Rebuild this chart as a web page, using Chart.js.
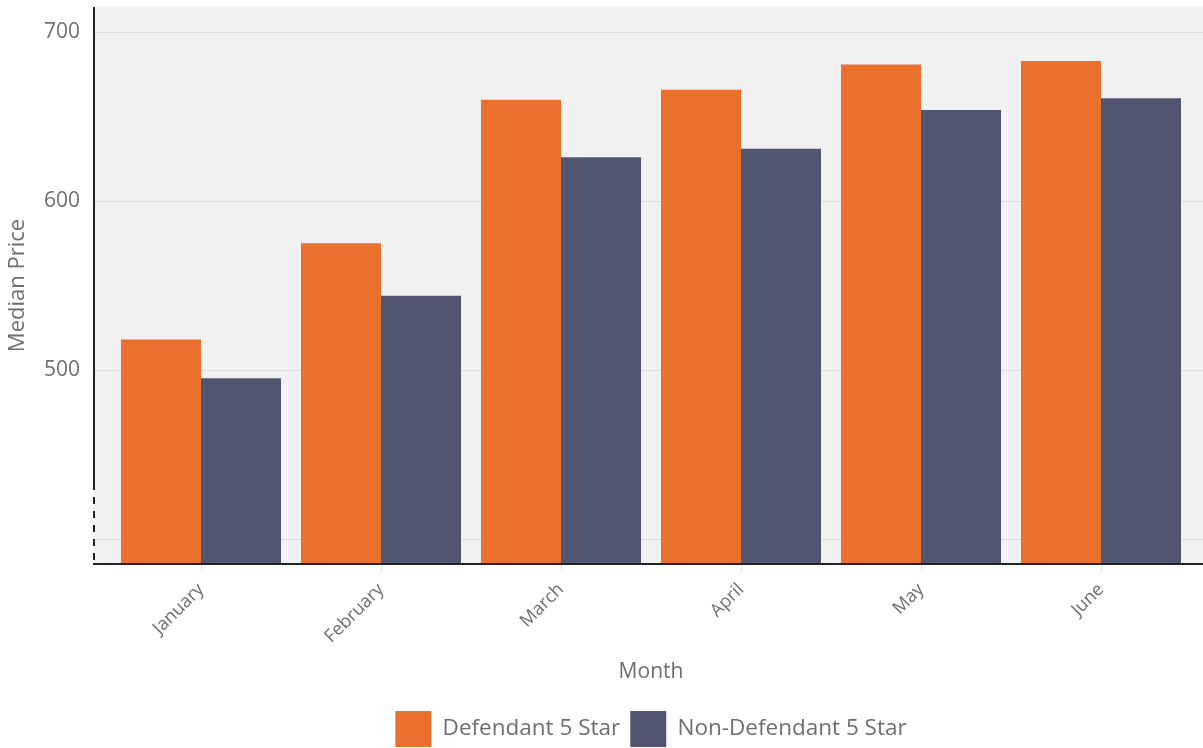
<!DOCTYPE html>
<html>
<head>
<meta charset="utf-8">
<script src="https://cdn.jsdelivr.net/npm/chart.js@4/dist/chart.umd.min.js"></script>
<style>
  html, body { margin: 0; padding: 0; background: #fff; }
  #wrap { width: 1203px; height: 748px; }
</style>
</head>
<body>
<div id="wrap"><canvas id="chart"></canvas></div>
<script>
const months = ['January', 'February', 'March', 'April', 'May', 'June'];
const defendant = [518, 575, 660, 666, 681, 683];
const nonDefendant = [495, 544, 626, 631, 654, 661];
const yTicks = [400, 500, 600, 700];

const FONT = '"Open Sans", Lato, sans-serif';
const TEXT = '#6e6e6e';

// background, grid lines and the broken y axis
const frame = {
  id: 'frame',
  beforeDatasetsDraw(chart) {
    const { ctx, chartArea, scales } = chart;
    const left = 94, right = chart.width;
    ctx.save();
    ctx.fillStyle = '#f1f1f1';
    ctx.fillRect(left, chartArea.top, right - left, chartArea.bottom - chartArea.top);
    ctx.strokeStyle = '#dcdcdc';
    ctx.lineWidth = 1;
    yTicks.forEach(v => {
      const y = Math.round(scales.y.getPixelForValue(v)) + 0.5;
      ctx.beginPath();
      ctx.moveTo(left, y);
      ctx.lineTo(right, y);
      ctx.stroke();
    });
    ctx.restore();
  },
  afterDatasetsDraw(chart) {
    const { ctx, chartArea } = chart;
    const x = 94, bottom = chartArea.bottom;
    ctx.save();
    ctx.strokeStyle = '#222';
    ctx.lineWidth = 2;
    ctx.beginPath();
    ctx.moveTo(x, chartArea.top);
    ctx.lineTo(x, 483);
    ctx.stroke();
    ctx.setLineDash([7, 7]);
    ctx.beginPath();
    ctx.moveTo(x, 483);
    ctx.lineTo(x, bottom);
    ctx.stroke();
    ctx.setLineDash([]);
    ctx.beginPath();
    ctx.moveTo(x - 1, bottom);
    ctx.lineTo(chart.width, bottom);
    ctx.stroke();
    ctx.restore();
  }
};

new Chart(document.getElementById('chart'), {
  type: 'bar',
  data: {
    labels: months,
    datasets: [
      {
        label: 'Defendant 5 Star',
        data: defendant,
        backgroundColor: '#ea712d'
      },
      {
        label: 'Non-Defendant 5 Star',
        data: nonDefendant,
        backgroundColor: '#515570'
      }
    ]
  },
  options: {
    responsive: true,
    maintainAspectRatio: false,
    animation: false,
    layout: { autoPadding: false, padding: { top: 7, right: 12, left: 0, bottom: -9 } },
    datasets: {
      bar: { categoryPercentage: 0.889, barPercentage: 1.0 }
    },
    plugins: {
      tooltip: { enabled: false },
      legend: {
        position: 'bottom',
        fullSize: false,
        labels: {
          boxWidth: 36,
          boxHeight: 36,
          padding: 10,
          color: TEXT,
          font: { family: FONT, size: 22.5 }
        }
      }
    },
    scales: {
      x: {
        afterFit(scale) {
          scale.height = 137;
          scale.paddingLeft = 0;
          scale.paddingRight = 0;
        },
        grid: {
          offset: false,
          drawOnChartArea: false,
          color: '#e2e2e2',
          tickLength: 8
        },
        border: { display: false },
        ticks: {
          color: TEXT,
          font: { family: FONT, size: 18 },
          minRotation: 45,
          maxRotation: 45,
          padding: 7
        },
        title: {
          display: true,
          text: 'Month',
          color: TEXT,
          font: { family: FONT, size: 21 },
          padding: { top: 4, bottom: 16 }
        }
      },
      y: {
        min: 385,
        max: 715,
        afterFit(scale) {
          scale.width = 111;
          scale.paddingTop = 0;
          scale.paddingBottom = 0;
        },
        afterBuildTicks(scale) { scale.ticks = yTicks.map(v => ({ value: v })); },
        grid: { display: false, drawTicks: false },
        border: { display: false },
        ticks: {
          color: TEXT,
          font: { family: FONT, size: 21 },
          padding: 31,
          callback: v => (v === 400 ? '' : v)
        },
        title: {
          display: true,
          text: 'Median Price',
          color: TEXT,
          font: { family: FONT, size: 22 },
          padding: 5
        }
      }
    }
  },
  plugins: [frame]
});
</script>
</body>
</html>
